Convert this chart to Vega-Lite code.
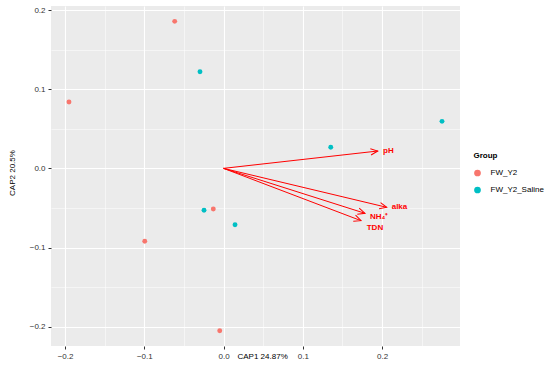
{
  "$schema": "https://vega.github.io/schema/vega-lite/v6.json",
  "width": 409,
  "height": 340,
  "autosize": {"type": "none"},
  "padding": {"left": 51, "top": 6, "right": 90, "bottom": 21},
  "background": "white",
  "config": {
    "font": "Liberation Sans",
    "view": {"fill": "#EBEBEB", "stroke": null},
    "axis": {
      "domain": false,
      "gridColor": "white",
      "gridWidth": {"condition": {"test": "abs(datum.value*10 - round(datum.value*10)) < 0.001", "value": 1.1}, "value": 0.5},
      "tickOpacity": {"condition": {"test": "abs(datum.value*10 - round(datum.value*10)) < 0.001", "value": 1}, "value": 0},
      "tickColor": "#333333",
      "tickSize": 3,
      "labelFontSize": 8,
      "labelColor": "#333333",
      "labelExpr": "abs(datum.value*10 - round(datum.value*10)) < 0.001 ? format(datum.value, '.1f') : ''",
      "titleFontSize": 8,
      "titleFontWeight": "normal",
      "titleColor": "black"
    },
    "axisX": {"labelPadding": 3},
    "axisY": {"labelPadding": 3}
  },
  "datasets": {
    "sites": [
      {"x": -0.195, "y": 0.0838, "Group": "FW_Y2"},
      {"x": -0.0616, "y": 0.1857, "Group": "FW_Y2"},
      {"x": -0.0994, "y": -0.0921, "Group": "FW_Y2"},
      {"x": -0.0129, "y": -0.0513, "Group": "FW_Y2"},
      {"x": -0.0048, "y": -0.2051, "Group": "FW_Y2"},
      {"x": -0.0297, "y": 0.1221, "Group": "FW_Y2_Saline"},
      {"x": -0.0246, "y": -0.053, "Group": "FW_Y2_Saline"},
      {"x": 0.0145, "y": -0.0712, "Group": "FW_Y2_Saline"},
      {"x": 0.1353, "y": 0.0266, "Group": "FW_Y2_Saline"},
      {"x": 0.2757, "y": 0.0594, "Group": "FW_Y2_Saline"}
    ],
    "env": [
      {"label": "pH", "x": 0.1946, "y": 0.0219, "lx": 0.2013, "ly": 0.0219},
      {"label": "alka", "x": 0.2059, "y": -0.0492, "lx": 0.2122, "ly": -0.0485},
      {"label": "NH₄⁺", "x": 0.1785, "y": -0.0568, "lx": 0.1849, "ly": -0.0618},
      {"label": "TDN", "x": 0.1735, "y": -0.0661, "lx": 0.1807, "ly": -0.075}
    ]
  },
  "layer": [
    {
      "data": {"name": "sites"},
      "mark": {"type": "point", "filled": true, "opacity": 1, "size": 24},
      "encoding": {
        "x": {"field": "x", "type": "quantitative", "title": "CAP1 24.87%",
          "scale": {"domain": [-0.2177, 0.2984], "nice": false, "zero": false},
          "axis": {"values": [-0.2, -0.15, -0.1, -0.05, 0, 0.05, 0.1, 0.15, 0.2, 0.25],
            "titleX": 186, "titleY": 10, "titleAlign": "left", "titleBaseline": "middle", "titleAnchor": null}},
        "y": {"field": "y", "type": "quantitative", "title": "CAP2 20.5%",
          "scale": {"domain": [-0.2244, 0.2051], "nice": false, "zero": false},
          "axis": {"values": [-0.2, -0.15, -0.1, -0.05, 0, 0.05, 0.1, 0.15, 0.2],
            "titleX": -38.3, "titleY": 166.5, "titleAngle": -90, "titleAlign": "center", "titleBaseline": "middle", "titleAnchor": null}},
        "color": {"field": "Group", "type": "nominal",
          "scale": {"domain": ["FW_Y2", "FW_Y2_Saline"], "range": ["#F8766D", "#00BFC4"]},
          "legend": {"orient": "none", "legendX": 422.5, "legendY": 146, "padding": 0,
            "titleFontSize": 8, "titleFontWeight": "bold", "titleColor": "black", "titlePadding": 9,
            "labelFontSize": 8, "labelColor": "black", "labelOffset": 9,
            "symbolSize": 45, "symbolType": "circle", "symbolStrokeWidth": 0, "rowPadding": 9}}
      }
    },
    {
      "data": {"name": "env"},
      "mark": {"type": "rule", "color": "red", "strokeWidth": 1},
      "encoding": {
        "x": {"field": "x", "type": "quantitative", "title": "CAP1 24.87%"},
        "y": {"field": "y", "type": "quantitative", "title": "CAP2 20.5%"},
        "x2": {"datum": 0},
        "y2": {"datum": 0}
      }
    },
    {
      "data": {"name": "env"},
      "transform": [{"calculate": "atan2(-datum.y, datum.x) * 180 / PI", "as": "ang"}],
      "mark": {"type": "point", "shape": "M-1,-0.45L0,0L-1,0.45", "filled": false, "stroke": "red", "strokeWidth": 1, "size": 200, "opacity": 1},
      "encoding": {
        "x": {"field": "x", "type": "quantitative", "title": "CAP1 24.87%"},
        "y": {"field": "y", "type": "quantitative", "title": "CAP2 20.5%"},
        "angle": {"field": "ang", "type": "quantitative", "scale": null}
      }
    },
    {
      "data": {"name": "env"},
      "mark": {"type": "text", "align": "left", "baseline": "middle", "color": "red", "fontSize": 8, "fontWeight": "bold"},
      "encoding": {
        "x": {"field": "lx", "type": "quantitative", "title": "CAP1 24.87%"},
        "y": {"field": "ly", "type": "quantitative", "title": "CAP2 20.5%"},
        "text": {"field": "label", "type": "nominal"}
      }
    }
  ]
}
